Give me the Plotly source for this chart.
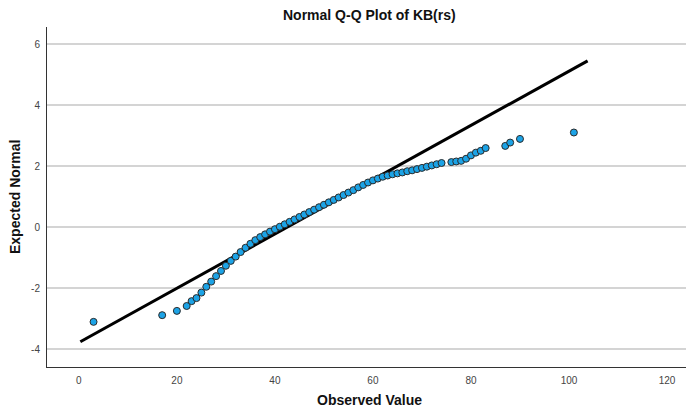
import plotly.graph_objects as go

# Observed values (distinct) and their expected normal scores
observed = [3, 17, 20, 22, 23, 24, 25, 26, 27, 28, 29, 30, 31, 32, 33, 34, 35, 36,
            37, 38, 39, 40, 41, 42, 43, 44, 45, 46, 47, 48, 49, 50, 51, 52, 53, 54,
            55, 56, 57, 58, 59, 60, 61, 62, 63, 64, 65, 66, 67, 68, 69, 70, 71, 72,
            73, 74, 76, 77, 78, 79, 80, 81, 82, 83, 87, 88, 90, 101]
expected = [-3.11, -2.89, -2.75, -2.59, -2.43, -2.33, -2.15, -1.96, -1.79, -1.61,
            -1.44, -1.27, -1.11, -0.97, -0.82, -0.68, -0.55, -0.43, -0.33, -0.24,
            -0.15, -0.07, 0.01, 0.09, 0.17, 0.25, 0.33, 0.41, 0.49, 0.57, 0.65, 0.73,
            0.81, 0.89, 0.97, 1.05, 1.13, 1.21, 1.30, 1.38, 1.46, 1.53, 1.59, 1.65,
            1.69, 1.73, 1.76, 1.79, 1.83, 1.86, 1.90, 1.94, 1.98, 2.02, 2.06, 2.10,
            2.13, 2.15, 2.17, 2.24, 2.35, 2.44, 2.50, 2.59, 2.66, 2.77, 2.89, 3.10]

# Reference line (normal fit): endpoints
line_x = [0.3, 103.8]
line_y = [-3.76, 5.45]

x_ticks = [0, 20, 40, 60, 80, 100, 120]
y_ticks = [-4, -2, 0, 2, 4, 6]

title_text = "Normal Q-Q Plot of KB(rs)"
x_title = "Observed Value"
y_title = "Expected Normal"

FONT = "Liberation Sans"

fig = go.Figure()
fig.add_trace(go.Scatter(
    x=line_x, y=line_y, mode="lines",
    line=dict(color="black", width=3), hoverinfo="skip", showlegend=False))
fig.add_trace(go.Scatter(
    x=observed, y=expected, mode="markers",
    marker=dict(size=7, color="#1ca3e6", line=dict(color="#2a2a2a", width=1)),
    showlegend=False))

# The page body has an 8px margin, so the figure is sized to fit the window.
fig.update_layout(
    width=686, height=404,
    margin=dict(l=39, r=2, t=19, b=45, autoexpand=False),
    paper_bgcolor="white", plot_bgcolor="white",
    font=dict(family=FONT, color="#333"),
    xaxis=dict(range=[-6.5, 125.1], tickvals=x_ticks,
               ticktext=[str(v) for v in x_ticks], showgrid=False,
               zeroline=False, showline=True, linecolor="#333", linewidth=1,
               ticks="", ticklabelstandoff=4, automargin=False,
               tickfont=dict(size=10, color="#444")),
    yaxis=dict(range=[-4.59, 6.56], tickvals=y_ticks,
               ticktext=[str(v) for v in y_ticks], showgrid=True,
               gridcolor="#d4d4d4", gridwidth=1.5,
               zeroline=False, showline=True, linecolor="#333", linewidth=1,
               ticks="", ticklabelstandoff=4, automargin=False,
               tickfont=dict(size=10, color="#444")),
    annotations=[
        dict(text="<b>" + title_text + "</b>", xref="paper", yref="paper",
             x=0.5, y=1 + 12 / 340, xanchor="center", yanchor="middle",
             showarrow=False, font=dict(family=FONT, size=14, color="#111")),
        dict(text="<b>" + x_title + "</b>", xref="paper", yref="paper",
             x=0.5, y=-33 / 340, xanchor="center", yanchor="middle",
             showarrow=False, font=dict(family=FONT, size=14, color="#111")),
        dict(text="<b>" + y_title + "</b>", xref="paper", yref="paper",
             x=-32 / 645, y=0.5, xanchor="center", yanchor="middle", textangle=-90,
             showarrow=False, font=dict(family=FONT, size=14, color="#111")),
    ],
)

fig.write_html("out.html")
